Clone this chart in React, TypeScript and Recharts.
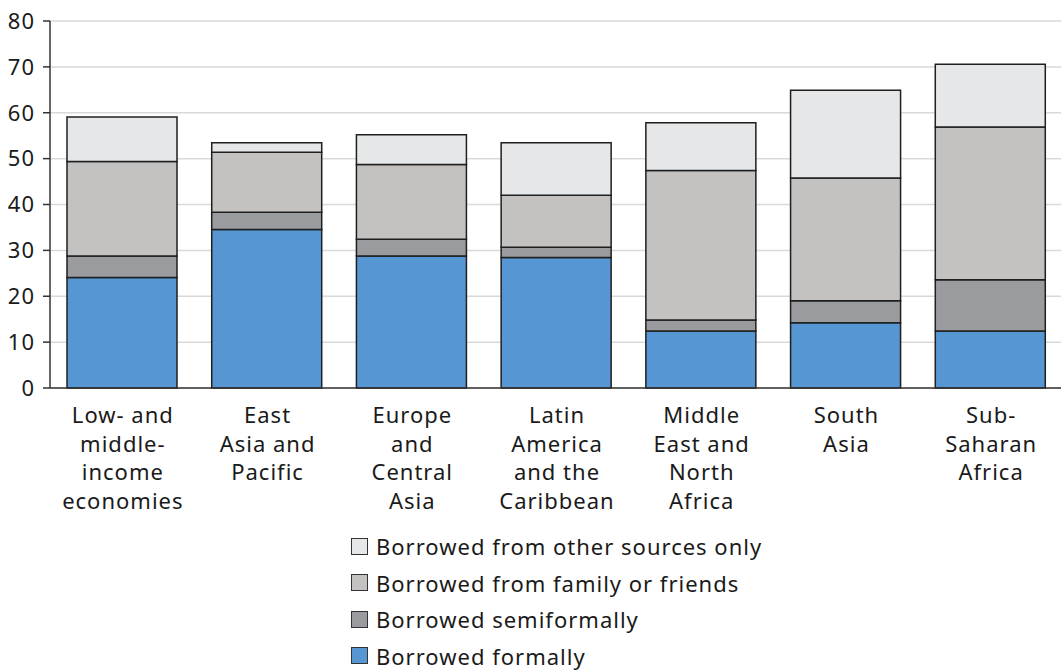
import React from 'react';
import { BarChart, Bar, XAxis, YAxis, CartesianGrid } from 'recharts';

const regions = [
  'Low- and|middle-|income|economies',
  'East|Asia and|Pacific',
  'Europe|and|Central|Asia',
  'Latin|America|and the|Caribbean',
  'Middle|East and|North|Africa',
  'South|Asia',
  'Sub-|Saharan|Africa',
];

const formal = [24.1, 34.55, 28.8, 28.45, 12.4, 14.2, 12.4];
const semiformal = [4.7, 3.75, 3.6, 2.25, 2.4, 4.8, 11.2];
const family = [20.6, 13.1, 16.3, 11.3, 32.6, 26.8, 33.3];
const other = [9.7, 2.05, 6.5, 11.45, 10.4, 19.1, 13.65];

const yTicks = [0, 10, 20, 30, 40, 50, 60, 70, 80];

const series = [
  { key: 'formal', name: 'Borrowed formally', color: '#5596d3' },
  { key: 'semiformal', name: 'Borrowed semiformally', color: '#9a9b9f' },
  { key: 'family', name: 'Borrowed from family or friends', color: '#c3c2c0' },
  { key: 'other', name: 'Borrowed from other sources only', color: '#e6e7e9' },
];

const data = regions.map((r, i) => ({
  region: r,
  formal: formal[i],
  semiformal: semiformal[i],
  family: family[i],
  other: other[i],
}));

const FONT = '"Noto Sans", "Open Sans", sans-serif';

// multi-line category labels, split on "|"
const RegionTick = (props: any) => {
  const { x, y, payload } = props;
  const lines = String(payload.value).split('|');
  return (
    <text x={x + 0.5} y={y} textAnchor="middle" fontSize={22} letterSpacing={1} fill="#1a1a1a" fontFamily={FONT}>
      {lines.map((l, i) => (
        <tspan key={i} x={x + 0.5} dy={i === 0 ? 27 : 28.5}>{l}</tspan>
      ))}
    </text>
  );
};

export default function App() {
  return (
    <div style={{ position: 'absolute', left: 0, top: 0, width: 1061, height: 672, overflow: 'hidden', background: '#fff', fontFamily: FONT }}>
      <BarChart
        width={1075}
        height={672}
        data={data}
        margin={{ top: 21, right: 12, left: 0, bottom: 0 }}
        barSize={110}
      >
        <CartesianGrid vertical={false} stroke="#d9d9d9" strokeWidth={1.5} />
        <XAxis
          dataKey="region"
          height={284}
          interval={0}
          tick={<RegionTick />}
          tickLine={false}
          axisLine={{ stroke: '#333', strokeWidth: 1.5 }}
        />
        <YAxis
          width={50}
          domain={[0, 80]}
          ticks={yTicks}
          interval={0}
          tick={{ fontSize: 22, fill: '#1a1a1a', fontFamily: FONT, letterSpacing: 1 }}
          tickSize={7}
          tickMargin={8}
          tickLine={{ stroke: '#333', strokeWidth: 1.5 }}
          axisLine={{ stroke: '#333', strokeWidth: 1.5 }}
        />
        {series.map((s) => (
          <Bar
            key={s.key}
            dataKey={s.key}
            name={s.name}
            stackId="a"
            fill={s.color}
            stroke="#1f1f1f"
            strokeWidth={1.5}
            isAnimationActive={false}
          />
        ))}
      </BarChart>
      <div style={{ position: 'absolute', left: 351, top: 528 }}>
        {[...series].reverse().map((s) => (
          <div key={s.key} style={{ display: 'flex', alignItems: 'center', height: 36.5, fontSize: 22, letterSpacing: 1, color: '#1a1a1a' }}>
            <span style={{ width: 15, height: 15, background: s.color, border: '1px solid #333', marginRight: 8, display: 'inline-block' }} />
            <span>{s.name}</span>
          </div>
        ))}
      </div>
    </div>
  );
}
